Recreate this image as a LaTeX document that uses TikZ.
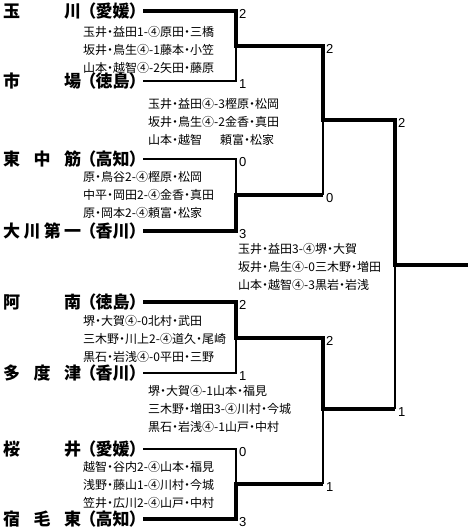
\documentclass[tikz,border=0pt]{standalone}
\usepackage{fontspec}
\setmainfont{Noto Sans CJK JP}
\newfontfamily\teamfont{Noto Sans CJK JP}[RawFeature={+palt}]
\newfontfamily\numfont{Liberation Sans}
\newcommand\tname[2]{\makebox[78pt][l]{#1}\hspace{6pt}#2}
\newcommand\ndot{\makebox[6pt][c]{\hss・\hss}}
\begin{document}
\begin{tikzpicture}[x=1pt,y=-1pt,
  team/.style={anchor=base west,inner sep=0pt,font=\teamfont\fontsize{17}{17}\selectfont\bfseries},
  res/.style={anchor=base west,inner sep=0pt,font=\fontsize{12}{12}\selectfont},
  score/.style={anchor=base west,inner sep=0pt,font=\numfont\fontsize{13}{13}\selectfont},
  win/.style={line width=4pt,line join=miter},
  lose/.style={line width=2pt}]
\fill[white] (0,0) rectangle (468,531);
\useasboundingbox (0,0) rectangle (468,531);

% teams
\node[team] (t1) at (3,17.5)  {\tname{玉\hfill 川}{（愛媛）}};
\node[team] (t2) at (3,87.5)  {\tname{市\hfill 場}{（徳島）}};
\node[team] (t3) at (3,165.5) {\tname{東\hfill 中\hfill 筋}{（高知）}};
\node[team] (t4) at (3,237.5) {\tname{大\hfill 川\hfill 第\hfill 一}{（香川）}};
\node[team] (t5) at (3,308.5) {\tname{阿\hfill 南}{（徳島）}};
\node[team] (t6) at (3,379.5) {\tname{多\hfill 度\hfill 津}{（香川）}};
\node[team] (t7) at (3,455.5) {\tname{桜\hfill 井}{（愛媛）}};
\node[team] (t8) at (3,525.5) {\tname{宿\hfill 毛\hfill 東}{（高知）}};

% bracket points
\coordinate (a1) at (143,11);
\coordinate (a2) at (143,81);
\coordinate (a3) at (143,159);
\coordinate (a4) at (143,231);
\coordinate (a5) at (143,302);
\coordinate (a6) at (143,373);
\coordinate (a7) at (143,449);
\coordinate (a8) at (143,519);
\coordinate (m1) at (236,46);
\coordinate (m2) at (236,195);
\coordinate (m3) at (236,338);
\coordinate (m4) at (236,484);
\coordinate (r1) at (323,46);
\coordinate (r2) at (323,195);
\coordinate (r3) at (323,338);
\coordinate (r4) at (323,484);
\coordinate (s1) at (323,120);
\coordinate (s2) at (323,409);
\coordinate (q1) at (395,120);
\coordinate (q2) at (395,409);
\coordinate (f)  at (395,265);
\coordinate (champ) at (468,265);

% losing lines
\draw[lose] (a2) -| (m1);
\draw[lose] (a3) -| (m2);
\draw[lose] (a6) -| (m3);
\draw[lose] (a7) -| (m4);
\draw[lose] (r2) -- (s1);
\draw[lose] (r4) -- (s2);
\draw[lose] (q2) -- (f);
% winning lines
\draw[win] (a1) -| (m1) -- (r1) -- (s1) -- (q1) -- (f) -- (champ);
\draw[win] (a4) -| (m2) -- (r2);
\draw[win] (a5) -| (m3) -- (r3) -- (s2) -- (q2);
\draw[win] (a8) -| (m4) -- (r4);

% scores
\node[score] (c1) at (239,18.5)  {2};
\node[score] (c2) at (239,88.5)  {1};
\node[score] (c3) at (239,166.5) {0};
\node[score] (c4) at (239,238.5) {3};
\node[score] (c5) at (239,309.5) {2};
\node[score] (c6) at (239,380.5) {1};
\node[score] (c7) at (239,456.5) {0};
\node[score] (c8) at (239,526.5) {3};
\node[score] (d1) at (326,53.5)  {2};
\node[score] (d2) at (326,202.5) {0};
\node[score] (d3) at (326,345.5) {2};
\node[score] (d4) at (326,491.5) {1};
\node[score] (e1) at (398,127.5) {2};
\node[score] (e2) at (398,416.5) {1};

% match details
\node[res] (b1a) at (83,36.6) {玉井\ndot 益田1-④原田\ndot 三橋};
\node[res] (b1b) at (83,54.6) {坂井\ndot 鳥生④-1藤本\ndot 小笠};
\node[res] (b1c) at (83,72.6) {山本\ndot 越智④-2矢田\ndot 藤原};

\node[res] (b2a) at (148,108.6) {玉井\ndot 益田④-3樫原\ndot 松岡};
\node[res] (b2b) at (148,126.6) {坂井\ndot 鳥生④-2金香\ndot 真田};
\node[res] (b2c) at (148,144.6) {山本\ndot 越智\hspace{18pt}頼富\ndot 松家};

\node[res] (b3a) at (83,181.6) {原\ndot 鳥谷2-④樫原\ndot 松岡};
\node[res] (b3b) at (83,199.6) {中平\ndot 岡田2-④金香\ndot 真田};
\node[res] (b3c) at (83,217.6) {原\ndot 岡本2-④頼富\ndot 松家};

\node[res] (b4a) at (238,253.6) {玉井\ndot 益田3-④堺\ndot 大賀};
\node[res] (b4b) at (238,271.6) {坂井\ndot 鳥生④-0三木野\ndot 増田};
\node[res] (b4c) at (238,289.6) {山本\ndot 越智④-3黒岩\ndot 岩浅};

\node[res] (b5a) at (83,325.6) {堺\ndot 大賀④-0北村\ndot 武田};
\node[res] (b5b) at (83,343.6) {三木野\ndot 川上2-④道久\ndot 尾崎};
\node[res] (b5c) at (83,361.6) {黒石\ndot 岩浅④-0平田\ndot 三野};

\node[res] (b6a) at (148,395.6) {堺\ndot 大賀④-1山本\ndot 福見};
\node[res] (b6b) at (148,413.6) {三木野\ndot 増田3-④川村\ndot 今城};
\node[res] (b6c) at (148,431.6) {黒石\ndot 岩浅④-1山戸\ndot 中村};

\node[res] (b7a) at (83,471.6) {越智\ndot 谷内2-④山本\ndot 福見};
\node[res] (b7b) at (83,489.6) {浅野\ndot 藤山1-④川村\ndot 今城};
\node[res] (b7c) at (83,507.6) {笠井\ndot 広川2-④山戸\ndot 中村};
\end{tikzpicture}
\end{document}
